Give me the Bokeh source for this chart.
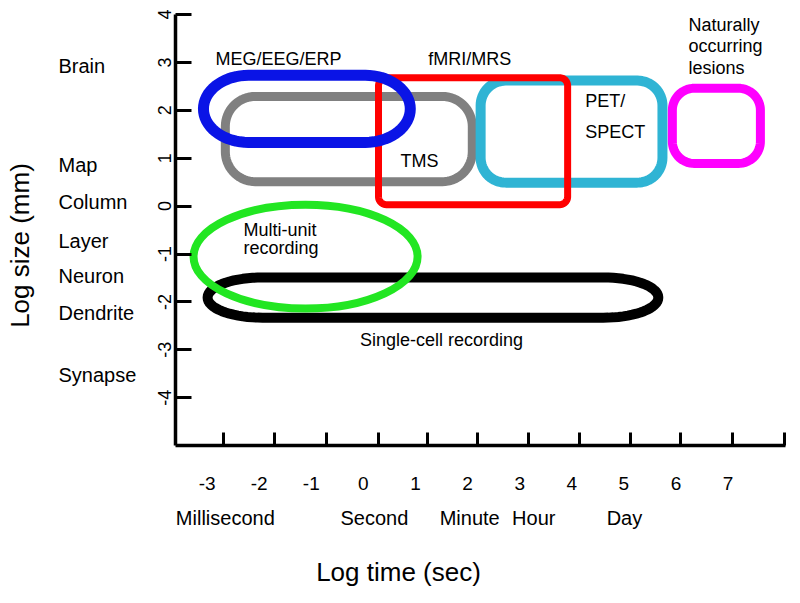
import numpy as np
from bokeh.plotting import figure
from bokeh.models import Range1d, FixedTicker, LinearAxis
from bokeh.core.properties import value
from bokeh.embed import file_html
from bokeh.resources import INLINE

FONT = "Liberation Sans"

# ---- data -------------------------------------------------------------
# y axis: log size (mm)
size_ticks = [-4, -3, -2, -1, 0, 1, 2, 3, 4]
size_tick_labels = ["-4", "-3", "-2", "-1", "0", "1", "2", "3", "4"]
size_names = ["Brain", "Map", "Column", "Layer", "Neuron", "Dendrite", "Synapse"]
size_name_pos = [2.92, 0.85, 0.08, -0.72, -1.45, -2.24, -3.53]

# x axis: log time (sec)
time_label_values = [-3, -2, -1, 0, 1, 2, 3, 4, 5, 6, 7]
time_tick_labels = ["-3", "-2", "-1", "0", "1", "2", "3", "4", "5", "6", "7"]
time_tick_marks = [-2.69, -1.71, -0.71, 0.29, 1.23, 2.19, 3.17, 4.15, 5.13, 6.09, 7.08, 8.09]
time_units = ["Millisecond", "Second", "Minute", "Hour", "Day"]
time_unit_pos = [-2.65, 0.21, 2.04, 3.27, 5.01]

# axis extents
time_axis = [-3.61, 8.1]
size_axis = [-5.0, 4.0]

# techniques: extent in log time and log size
techniques = ["TMS", "PET/SPECT", "Naturally occurring lesions",
              "Single-cell recording", "fMRI/MRS", "MEG/EEG/ERP"]
time_lo = [-2.65, 2.25, 5.93, -2.99, 0.29, -3.07]
time_hi = [2.09, 5.74, 7.62, 5.66, 3.92, 0.90]
size_lo = [0.51, 0.49, 0.89, -2.33, 0.03, 1.33]
size_hi = [2.29, 2.62, 2.46, -1.49, 2.68, 2.73]

# multi-unit recording (elliptical extent)
mu_time = [-3.26, 1.04]
mu_size = [-2.14, 0.03]

# text annotations
ann_center_text = ["MEG/EEG/ERP", "fMRI/MRS", "Single-cell recording"]
ann_center_x = [-1.63, 2.04, 1.50]
ann_center_y = [3.08, 3.08, -2.79]
ann_left_text = ["Naturally", "occurring", "lesions", "PET/", "SPECT", "TMS",
                 "Multi-unit", "recording"]
ann_left_x = [6.24, 6.24, 6.24, 4.26, 4.26, 0.71, -2.30, -2.30]
ann_left_y = [3.79, 3.35, 2.89, 2.20, 1.55, 0.95, -0.50, -0.87]

# ---- styles / layout ----------------------------------------------------
W, H = 792, 587
PX_X = 52.1          # pixels per x unit
PX_Y = 47.9          # pixels per y unit
X0_PX = 362.9        # pixel of x = 0
Y0_PX = 205.6        # pixel of y = 0
NAME_X = (58 - X0_PX) / PX_X
YTITLE_X, YTITLE_Y = (19.5 - X0_PX) / PX_X, (Y0_PX - 245) / PX_Y
XTITLE_X, XTITLE_Y = (398 - X0_PX) / PX_X, (Y0_PX - 571) / PX_Y

shape_style = {
    "TMS": dict(color="#808080", width=9, r=(30, 30)),
    "PET/SPECT": dict(color="#2fb4d4", width=10, r=(25, 25)),
    "Naturally occurring lesions": dict(color="#ff00ff", width=9, r=(22, 22)),
    "Single-cell recording": dict(color="#000000", width=10, r=(55, 20)),
    "fMRI/MRS": dict(color="#ff0000", width=7, r=(8, 8)),
    "MEG/EEG/ERP": dict(color="#0a14e6", width=11, r=(45, 34)),
}


def rounded_path(x0, x1, y0, y1, rx, ry, n=18):
    rx = min(rx, (x1 - x0) / 2)
    ry = min(ry, (y1 - y0) / 2)
    xs, ys = [], []
    corners = [((x1 - rx, y1 - ry), 0.0), ((x0 + rx, y1 - ry), 0.5 * np.pi),
               ((x0 + rx, y0 + ry), np.pi), ((x1 - rx, y0 + ry), 1.5 * np.pi)]
    for (cx, cy), a0 in corners:
        t = np.linspace(a0, a0 + 0.5 * np.pi, n)
        xs.extend(cx + rx * np.cos(t))
        ys.extend(cy + ry * np.sin(t))
    xs.append(xs[0])
    ys.append(ys[0])
    return xs, ys


p = figure(width=W, height=H,
           x_range=Range1d(-X0_PX / PX_X, (W - X0_PX) / PX_X),
           y_range=Range1d((Y0_PX - H) / PX_Y, Y0_PX / PX_Y),
           output_backend="svg", toolbar_location=None,
           min_border=0, min_border_left=0, min_border_right=0,
           min_border_top=0, min_border_bottom=0)
p.outline_line_color = None
p.xgrid.visible = False
p.ygrid.visible = False
p.background_fill_color = "white"

# y axis, drawn at the left end of the time axis
yax = p.yaxis[0]
yax.fixed_location = time_axis[0]
yax.bounds = tuple(size_axis)
yax.ticker = FixedTicker(ticks=size_ticks)
yax.major_label_overrides = {v: s for v, s in zip(size_ticks, size_tick_labels)}
yax.major_label_orientation = "vertical"
yax.axis_line_width = 3.5
yax.major_tick_in = 16
yax.major_tick_out = 0
yax.major_tick_line_width = 3
yax.minor_tick_line_color = None
yax.major_label_standoff = 4
yax.major_label_text_font = FONT
yax.major_label_text_font_size = "18px"
yax.major_label_text_color = "black"

# x axis (tick marks as minor ticks, numbers as labels)
xax = p.xaxis[0]
xax.fixed_location = size_axis[0]
xax.bounds = tuple(time_axis)
xax.ticker = FixedTicker(ticks=time_label_values, minor_ticks=time_tick_marks)
xax.major_label_overrides = {v: s for v, s in zip(time_label_values, time_tick_labels)}
xax.axis_line_width = 3.5
xax.major_tick_line_color = None
xax.major_tick_in = 0
xax.major_tick_out = 0
xax.minor_tick_in = 13
xax.minor_tick_out = 0
xax.minor_tick_line_width = 3
xax.minor_tick_line_color = "black"
xax.major_label_standoff = 31
xax.major_label_text_font = FONT
xax.major_label_text_font_size = "19px"
xax.major_label_text_color = "black"

# unit names axis
uax = LinearAxis(ticker=FixedTicker(ticks=time_unit_pos),
                 major_label_overrides={v: s for v, s in zip(time_unit_pos, time_units)},
                 fixed_location=size_axis[0])
uax.axis_line_color = None
uax.major_tick_line_color = None
uax.major_tick_in = 0
uax.major_tick_out = 0
uax.minor_tick_line_color = None
uax.major_label_standoff = 61
uax.major_label_text_font = FONT
uax.major_label_text_font_size = "20px"
uax.major_label_text_color = "black"
p.add_layout(uax, "below")

# technique outlines
for name, a, b, c, d in zip(techniques, time_lo, time_hi, size_lo, size_hi):
    st = shape_style[name]
    xs, ys = rounded_path(a, b, c, d, st["r"][0] / PX_X, st["r"][1] / PX_Y)
    p.line(xs, ys, line_color=st["color"], line_width=st["width"],
           line_join="round", line_cap="round")

p.ellipse(x=[(mu_time[0] + mu_time[1]) / 2], y=[(mu_size[0] + mu_size[1]) / 2],
          width=[mu_time[1] - mu_time[0]], height=[mu_size[1] - mu_size[0]],
          fill_color=None, line_color="#22e622", line_width=8)

# annotations
p.text(x=ann_center_x, y=ann_center_y, text=ann_center_text,
       text_font=value(FONT), text_font_size="18px", text_align="center",
       text_baseline="middle", text_color="black")
p.text(x=ann_left_x, y=ann_left_y, text=ann_left_text,
       text_font=value(FONT), text_font_size="18px", text_align="left",
       text_baseline="middle", text_color="black")

# size names left of the axis
p.text(x=[NAME_X] * len(size_names), y=size_name_pos, text=size_names,
       text_font=value(FONT), text_font_size="20px", text_align="left",
       text_baseline="middle", text_color="black")

# axis titles
p.text(x=[YTITLE_X], y=[YTITLE_Y], text=["Log size (mm)"], angle=np.pi / 2,
       text_font=value(FONT), text_font_size="26px", text_align="center",
       text_baseline="middle", text_color="black")
p.text(x=[XTITLE_X], y=[XTITLE_Y], text=["Log time (sec)"],
       text_font=value(FONT), text_font_size="26px", text_align="center",
       text_baseline="middle", text_color="black")

open("out.html", "w").write(file_html(p, INLINE, title="Log size vs log time"))
